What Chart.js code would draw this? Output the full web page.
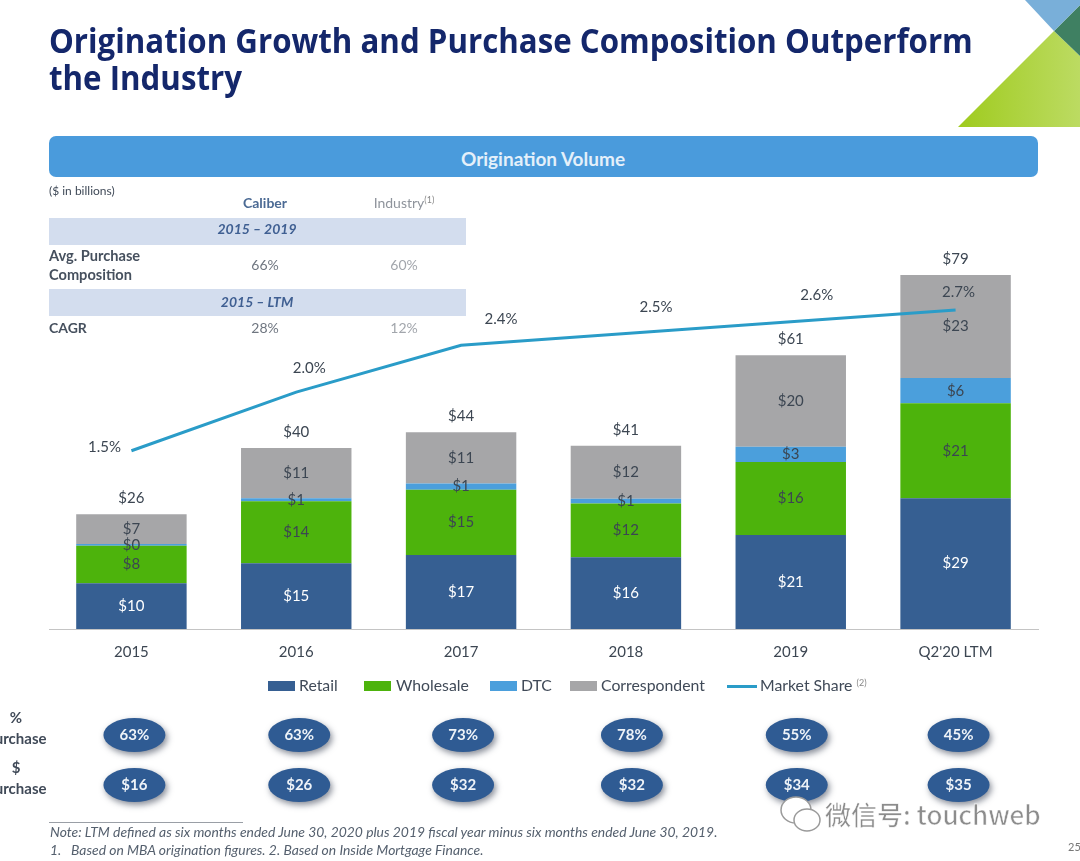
<!DOCTYPE html>
<html>
<head>
<meta charset="utf-8">
<title>Origination Volume</title>
<script src="https://cdn.jsdelivr.net/npm/chart.js@4"></script>
<style>
html, body { margin: 0; padding: 0; background: #fff; }
#stage { position: relative; width: 1080px; height: 861px; overflow: hidden; font-family: Lato, "Open Sans", sans-serif; color: #404a58; }
#stage canvas { position: absolute; left: 0; top: 0; }
.t { position: absolute; white-space: nowrap; line-height: 1; }
.c { transform: translateX(-50%); text-align: center; }
.title { left: 49px; font: 700 33.4px "Open Sans", sans-serif; color: #14276b; transform: scaleX(0.936); transform-origin: left top; }
.band { position: absolute; left: 49px; width: 417px; height: 27px; background: #d3ddee; }
.bar { position: absolute; left: 49px; top: 136px; width: 989px; height: 41px; border-radius: 7px; background: #4a9bdc; }
.swatch { position: absolute; height: 10px; top: 681px; width: 27px; }
.leg { top: 677px; font-size: 15.8px; }
sup { font-size: 9px; line-height: 0; vertical-align: 5px; color: #888; }
.note { font: italic 13.9px Lato, sans-serif; color: #55606e; left: 50px; }
.mark { font: 500 26px "Noto Sans CJK SC", sans-serif; color: #8c8c8c; -webkit-text-stroke: 0.5px #fff; }
</style>
</head>
<body>
<div id="stage">
  <canvas id="chart" width="1080" height="861"></canvas>

  <svg width="1080" height="130" style="position:absolute;left:0;top:0">
    <defs><linearGradient id="lime" x1="0" x2="1"><stop offset="0" stop-color="#9fcb1e"/><stop offset="1" stop-color="#bcdb62"/></linearGradient></defs>
    <polygon points="958,127 1080,127 1080,56 1054,31" fill="url(#lime)"/>
    <polygon points="1054,31 1080,5 1080,56" fill="#3f8062"/>
    <polygon points="1025,0 1080,0 1080,5 1054,31" fill="#79afd9"/>
  </svg>

  <div class="t title" style="top:17px">Origination Growth and Purchase Composition Outperform</div>
  <div class="t title" style="top:54px">the Industry</div>

  <div class="bar"></div>
  <div class="t c" style="left:543px;top:147px;font:700 19px Lato,sans-serif;color:#e4f0fa">Origination Volume</div>

  <div class="t" style="left:49px;top:185px;font-size:12px">($ in billions)</div>
  <div class="t c" style="left:265px;top:196px;font-size:14px;font-weight:700;color:#4b6a94">Caliber</div>
  <div class="t c" style="left:404px;top:196px;font-size:14px;color:#8f949c">Industry<sup>(1)</sup></div>
  <div class="band" style="top:218px"></div>
  <div class="t c" style="left:257px;top:222px;font-size:14px;font-style:italic;font-weight:700;color:#3f5f92">2015 – 2019</div>
  <div class="t" style="left:49px;top:246px;font-size:14.6px;font-weight:700;color:#46505e;line-height:19px">Avg. Purchase<br>Composition</div>
  <div class="t c" style="left:265px;top:258px;font-size:14px;color:#6f7680">66%</div>
  <div class="t c" style="left:404px;top:258px;font-size:14px;color:#a2a6ac">60%</div>
  <div class="band" style="top:289px"></div>
  <div class="t c" style="left:257px;top:295px;font-size:14px;font-style:italic;font-weight:700;color:#3f5f92">2015 – LTM</div>
  <div class="t" style="left:49px;top:321px;font-size:14px;font-weight:700;color:#46505e">CAGR</div>
  <div class="t c" style="left:265px;top:321px;font-size:14px;color:#6f7680">28%</div>
  <div class="t c" style="left:404px;top:321px;font-size:14px;color:#a2a6ac">12%</div>

  <div class="swatch" style="left:268px;background:#365f92"></div>
  <div class="t leg" style="left:299px">Retail</div>
  <div class="swatch" style="left:364px;background:#4db30c"></div>
  <div class="t leg" style="left:396px">Wholesale</div>
  <div class="swatch" style="left:490px;background:#4b9fdc"></div>
  <div class="t leg" style="left:521px">DTC</div>
  <div class="swatch" style="left:570px;background:#a6a6a8"></div>
  <div class="t leg" style="left:601px">Correspondent</div>
  <div class="swatch" style="left:727px;top:685px;height:3px;width:30px;background:#2a9cc8"></div>
  <div class="t leg" style="left:760px">Market Share <sup>(2)</sup></div>

  <div class="t c" style="left:16px;top:710px;font-size:15px;font-weight:700">%</div>
  <div class="t c" style="left:16px;top:731px;font-size:15px;font-weight:700">Purchase</div>
  <div class="t c" style="left:16px;top:760px;font-size:15px;font-weight:700">$</div>
  <div class="t c" style="left:16px;top:781px;font-size:15px;font-weight:700">Purchase</div>

  <div style="position:absolute;left:49px;top:822px;width:194px;height:1px;background:#9a9fa6"></div>
  <div class="t note" style="top:823px">Note: LTM defined as six months ended June 30, 2020 plus 2019 fiscal year minus six months ended June 30, 2019.</div>
  <div class="t note" style="top:841px">1.&nbsp;&nbsp;&nbsp;Based on MBA origination figures. 2. Based on Inside Mortgage Finance.</div>
  <div class="t" style="left:1068px;top:841px;font-size:11px;color:#777">25</div>

  <svg width="46" height="46" style="position:absolute;left:778px;top:792px" fill="#fff" stroke="#9a9a9a" stroke-width="1.5">
    <ellipse cx="18" cy="18" rx="15" ry="13"/>
    <ellipse cx="29" cy="28" rx="13" ry="11"/>
  </svg>
  <div class="t mark" style="left:825px;top:795px">微信号: touchweb</div>
</div>

<script>
// values, $ billions
const categories = ['2015', '2016', '2017', '2018', '2019', "Q2'20 LTM"];
const retail = [10.2, 14.7, 16.5, 16, 21, 29.2];
const wholesale = [8.4, 13.8, 14.6, 12, 16.3, 21.2];
const dtc = [0.4, 0.7, 1.4, 1.1, 3.4, 5.6];
const correspondent = [6.6, 11.2, 11.4, 11.8, 20.4, 23];
const marketShare = [1.5, 2.0, 2.4, 2.5, 2.6, 2.7];
const purchasePct = ['63%', '63%', '73%', '78%', '55%', '45%'];
const purchaseAmt = ['$16', '$26', '$32', '$32', '$34', '$35'];

const labelFont = '15px Lato, sans-serif';
const darkText = '#3c4652';

// where each market share label sits relative to its point
const shareLabelShift = [[-27, -4], [13, -24], [40, -26], [30, -26], [26, -27], [3, -18]];
// the bubbles in the source are not quite centred on the columns
const bubbleShift = [3, 3, 2, 6, 6, 3];

const barLabels = {
    id: 'barLabels',
    afterDatasetsDraw(chart) {
        const ctx = chart.ctx;
        ctx.save();
        ctx.font = labelFont;
        ctx.textAlign = 'center';
        ctx.textBaseline = 'middle';
        for (let d = 0; d < 4; d++) {
            const meta = chart.getDatasetMeta(d);
            ctx.fillStyle = d === 0 ? '#ffffff' : darkText;
            meta.data.forEach((bar, i) => {
                const value = chart.data.datasets[d].data[i];
                ctx.fillText('$' + Math.round(value), bar.x, (bar.y + bar.base) / 2);
            });
        }
        // totals above the stacks
        ctx.fillStyle = darkText;
        chart.getDatasetMeta(3).data.forEach((bar, i) => {
            const total = retail[i] + wholesale[i] + dtc[i] + correspondent[i];
            ctx.fillText('$' + Math.round(total), bar.x, bar.y - 16);
        });
        // market share labels
        chart.getDatasetMeta(4).data.forEach((pt, i) => {
            ctx.fillText(marketShare[i].toFixed(1) + '%', pt.x + shareLabelShift[i][0], pt.y + shareLabelShift[i][1]);
        });
        ctx.restore();
    }
};

const purchaseBubbles = {
    id: 'purchaseBubbles',
    afterDraw(chart) {
        const ctx = chart.ctx;
        const x = chart.scales.x;
        const rows = [[purchasePct, 735], [purchaseAmt, 785]];
        rows.forEach(([texts, y]) => {
            texts.forEach((text, i) => {
                const cx = x.getPixelForValue(i) + bubbleShift[i];
                ctx.save();
                ctx.shadowColor = 'rgba(40, 50, 70, 0.55)';
                ctx.shadowBlur = 6;
                ctx.shadowOffsetX = 2;
                ctx.shadowOffsetY = 3;
                ctx.fillStyle = '#2f5b93';
                ctx.beginPath();
                ctx.ellipse(cx, y, 31, 17, 0, 0, Math.PI * 2);
                ctx.fill();
                ctx.restore();
                ctx.save();
                ctx.fillStyle = '#eef3f8';
                ctx.font = 'bold 15px Lato, sans-serif';
                ctx.textAlign = 'center';
                ctx.textBaseline = 'middle';
                ctx.fillText(text, cx, y);
                ctx.restore();
            });
        });
    }
};

new Chart(document.getElementById('chart').getContext('2d'), {
    type: 'bar',
    data: {
        labels: categories,
        datasets: [
            { label: 'Retail', data: retail, backgroundColor: '#365f92' },
            { label: 'Wholesale', data: wholesale, backgroundColor: '#4db30c' },
            { label: 'DTC', data: dtc, backgroundColor: '#4b9fdc' },
            { label: 'Correspondent', data: correspondent, backgroundColor: '#a6a6a8' },
            {
                type: 'line',
                label: 'Market Share',
                data: marketShare,
                yAxisID: 'y1',
                borderColor: '#2a9cc8',
                borderWidth: 3,
                pointRadius: 0,
                tension: 0,
                order: -1
            }
        ]
    },
    options: {
        responsive: false,
        animation: false,
        categoryPercentage: 1,
        barPercentage: 0.67,
        layout: { padding: { left: 49, right: 42, top: 181, bottom: 192 } },
        plugins: { legend: { display: false }, tooltip: { enabled: false } },
        scales: {
            x: {
                stacked: true,
                grid: { display: false },
                border: { color: '#c4c4c4' },
                ticks: { color: darkText, font: { family: 'Lato, sans-serif', size: 15 }, padding: 6, maxRotation: 0 },
                afterFit(scale) { scale.height = 40; }
            },
            y: { stacked: true, display: false, min: 0, max: 100 },
            y1: { display: false, min: -0.02, max: 3.8 }
        }
    },
    plugins: [barLabels, purchaseBubbles]
});
</script>
</body>
</html>
